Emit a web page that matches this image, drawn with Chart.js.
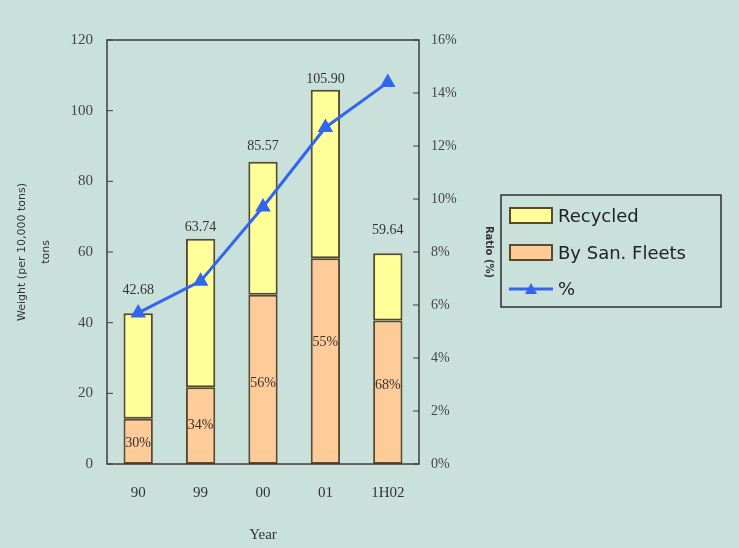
<!doctype html>
<html lang="en">
    <head>
        <meta charset="UTF-8"/>
        <title>Waste weight</title>
        <script src="https://cdn.jsdelivr.net/npm/chart.js@4.4.0/dist/chart.umd.min.js"></script>
        <style>
         * { margin: 0; padding: 0; }
         body { background: #c9e1da; }
         #wrap { width: 739px; height: 548px; }
        </style>
    </head>
    <body>
        <div id="wrap"><canvas id="chart1" width="739" height="548"></canvas></div>
        <script>
         // values
         const years = ['90', '99', '00', '01', '1H02'];
         const totals = [42.68, 63.74, 85.57, 105.90, 59.64];
         const fleetShare = [30, 34, 56, 55, 68];
         const fleets = [12.8, 21.7, 47.9, 58.2, 40.6];
         const recycled = [29.88, 42.04, 37.67, 47.7, 19.04];
         const ratio = [5.7, 6.9, 9.7, 12.7, 14.4];

         const serif = '"Liberation Serif", "DejaVu Serif", serif';
         const sans = '"DejaVu Sans", sans-serif';
         const edge = '#5a4a2c';
         const blue = '#3366ee';

         // plot frame + inward tick marks
         const framePlugin = {
             id: 'frame',
             afterDraw(chart) {
                 const ctx = chart.ctx, a = chart.chartArea;
                 ctx.save();
                 ctx.strokeStyle = '#3c3c3c';
                 ctx.lineWidth = 1.5;
                 ctx.strokeRect(a.left, a.top, a.right - a.left, a.bottom - a.top);
                 ctx.lineWidth = 1;
                 chart.scales.y.ticks.forEach(t => {
                     const py = chart.scales.y.getPixelForValue(t.value);
                     ctx.beginPath(); ctx.moveTo(a.left, py); ctx.lineTo(a.left + 6, py); ctx.stroke();
                 });
                 chart.scales.y1.ticks.forEach(t => {
                     const py = chart.scales.y1.getPixelForValue(t.value);
                     ctx.beginPath(); ctx.moveTo(a.right, py); ctx.lineTo(a.right - 6, py); ctx.stroke();
                 });
                 ctx.restore();
             }
         };

         // totals above bars, shares inside the orange part
         const totalLift = [23, 11, 15, 10, 23];
         const shareNudge = [2, 0, 4, -19, -7];
         const labelPlugin = {
             id: 'labels',
             afterDatasetsDraw(chart) {
                 const ctx = chart.ctx;
                 const top = chart.getDatasetMeta(1).data;
                 const bottom = chart.getDatasetMeta(0).data;
                 ctx.save();
                 ctx.font = '14px ' + serif;
                 ctx.fillStyle = '#333';
                 ctx.textAlign = 'center';
                 ctx.textBaseline = 'middle';
                 top.forEach((bar, i) => {
                     ctx.fillText(totals[i].toFixed(2), bar.x, bar.y - totalLift[i]);
                 });
                 bottom.forEach((bar, i) => {
                     ctx.fillText(fleetShare[i] + '%', bar.x, (bar.y + bar.base) / 2 + shareNudge[i]);
                 });
                 ctx.restore();
             },
             afterDraw(chart) {
                 // boxed legend on the right
                 const ctx = chart.ctx;
                 const x = 501, y = 195, w = 220, h = 112;
                 ctx.save();
                 ctx.strokeStyle = '#2e2e2e';
                 ctx.lineWidth = 1.5;
                 ctx.strokeRect(x, y, w, h);
                 ctx.font = '18px ' + sans;
                 ctx.textBaseline = 'middle';
                 const rows = [chart.data.datasets[1], chart.data.datasets[0], chart.data.datasets[2]];
                 const rowY = [y + 21, y + 58, y + 94];
                 rows.forEach((ds, i) => {
                     const cy = rowY[i];
                     if (ds.type === 'line') {
                         ctx.strokeStyle = ds.borderColor;
                         ctx.lineWidth = 3;
                         ctx.beginPath(); ctx.moveTo(x + 8, cy); ctx.lineTo(x + 52, cy); ctx.stroke();
                         ctx.fillStyle = ds.borderColor;
                         ctx.beginPath();
                         ctx.moveTo(x + 30, cy - 6); ctx.lineTo(x + 36, cy + 5); ctx.lineTo(x + 24, cy + 5);
                         ctx.closePath(); ctx.fill();
                     } else {
                         ctx.fillStyle = ds.backgroundColor;
                         ctx.fillRect(x + 9, cy - 8, 42, 15);
                         ctx.strokeStyle = edge;
                         ctx.lineWidth = 2;
                         ctx.strokeRect(x + 9, cy - 8, 42, 15);
                     }
                     ctx.fillStyle = '#222';
                     ctx.fillText(ds.label, x + 57, cy + 1);
                 });
                 ctx.restore();
             }
         };

         new Chart(document.getElementById('chart1').getContext('2d'), {
             type: 'bar',
             data: {
                 labels: years,
                 datasets: [{
                     label: 'By San. Fleets',
                     data: fleets,
                     backgroundColor: '#ffcc99',
                     borderColor: edge,
                     borderWidth: 2,
                     borderSkipped: false,
                     barPercentage: 0.47,
                     categoryPercentage: 1,
                     stack: 's',
                     order: 2
                 }, {
                     label: 'Recycled',
                     data: recycled,
                     backgroundColor: '#ffff99',
                     borderColor: edge,
                     borderWidth: 2,
                     borderSkipped: false,
                     barPercentage: 0.47,
                     categoryPercentage: 1,
                     stack: 's',
                     order: 2
                 }, {
                     type: 'line',
                     label: '%',
                     data: ratio,
                     yAxisID: 'y1',
                     borderColor: blue,
                     backgroundColor: blue,
                     borderWidth: 3,
                     pointStyle: 'triangle',
                     pointRadius: 6,
                     tension: 0,
                     order: 1
                 }]
             },
             options: {
                 responsive: false,
                 animation: false,
                 layout: { padding: { left: 0, top: 40, right: 240, bottom: 0 } },
                 plugins: { legend: { display: false }, tooltip: { enabled: false } },
                 scales: {
                     x: {
                         stacked: true,
                         grid: { display: false, drawTicks: false },
                         border: { display: false },
                         ticks: { color: '#333', font: { family: serif, size: 15 }, padding: 20 },
                         title: { display: true, text: 'Year', color: '#333', font: { family: serif, size: 15 }, padding: { top: 12 } },
                         afterFit(s) { s.height = 84; }
                     },
                     y: {
                         stacked: true,
                         min: 0, max: 120,
                         ticks: { stepSize: 20, color: '#444', font: { family: serif, size: 15 }, padding: 14 },
                         grid: { display: false, drawTicks: false },
                         border: { display: false },
                         title: { display: true, text: ['Weight (per 10,000 tons)', 'tons'], color: '#333', font: { family: sans, size: 11, lineHeight: 2.2 }, padding: { top: 10, bottom: 0 } },
                         afterFit(s) { s.width = 107; }
                     },
                     y1: {
                         position: 'right',
                         min: 0, max: 16,
                         ticks: { stepSize: 2, color: '#444', font: { family: serif, size: 14 }, padding: 12, callback: v => v + '%' },
                         grid: { display: false, drawTicks: false },
                         border: { display: false },
                         title: { display: true, text: 'Ratio (%)', color: '#333', font: { family: sans, size: 10, weight: 'bold' }, padding: 4 },
                         afterFit(s) { s.width = 80; }
                     }
                 }
             },
             plugins: [framePlugin, labelPlugin]
         });
        </script>
    </body>
</html>
